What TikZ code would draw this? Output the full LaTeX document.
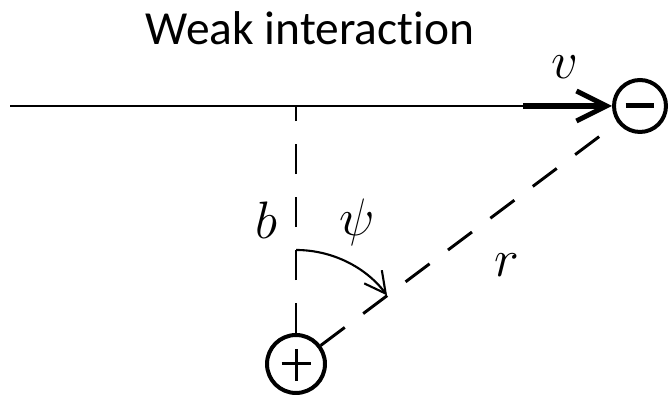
\documentclass[tikz,border=0pt]{standalone}
\usepackage{fix-cm}
\usepackage{fontspec}
\setmainfont{Carlito}[Ligatures=NoCommon]
\usepackage{tikz}
\usetikzlibrary{arrows.meta,positioning,calc}
\tikzset{
  ptcl/.style={circle,draw,line width=0.08cm,inner sep=0pt},
  arr/.style={-{Straight Barb[length=0.42cm,width=0.44cm,line width=1.2pt]}},
  dsh/.style={line width=1.7pt,dash pattern=on 0.6cm off 0.46cm},
  vek/.style={line width=0.12cm,-{Straight Barb[length=0.6cm,width=0.6cm,line width=0.1cm]}},
  lab/.style={font=\fontsize{30}{34}\selectfont},
}

\begin{document}
\begin{tikzpicture}[x=0.02cm,y=0.02cm]
  \useasboundingbox (0,0) rectangle (670,398);
  \node[font=\fontsize{27}{32}\selectfont] (title) at (310,370) {Weak interaction};
  % particles
  \node[ptcl,minimum size=1.04cm] (neg) at (640,292) {};
  \node[ptcl,minimum size=1.16cm] (pos) at (296,34) {};
  \draw[line width=0.1cm] ([xshift=-0.29cm]neg.center) -- ([xshift=0.27cm]neg.center);
  \draw[line width=0.06cm] ([xshift=-0.29cm]pos.center) -- ([xshift=0.31cm]pos.center);
  \draw[line width=0.06cm] ([yshift=-0.34cm]pos.center) -- ([yshift=0.3cm]pos.center);
  % path and geometry
  \coordinate (s) at (10,292);
  \coordinate (k) at (523,292);
  \coordinate (o) at (296,292);
  \draw[line width=1.2pt] (s) -- (k);
  \draw[vek] (k) -- (neg.west);
  \draw[dsh] (pos) -- (o);
  \draw[dsh] (pos) -- (neg);
  \draw[arr,line width=1.2pt] (296,148) arc[start angle=90,end angle=37,radius=114];
  \node[lab] (b) at (266,178) {$b$};
  \node[lab] (psi) at (357,176) {$\psi$};
  \node[lab] (r) at (507,133) {$r$};
  \node[lab] (v) at (565,331) {$v$};
\end{tikzpicture}
\end{document}
